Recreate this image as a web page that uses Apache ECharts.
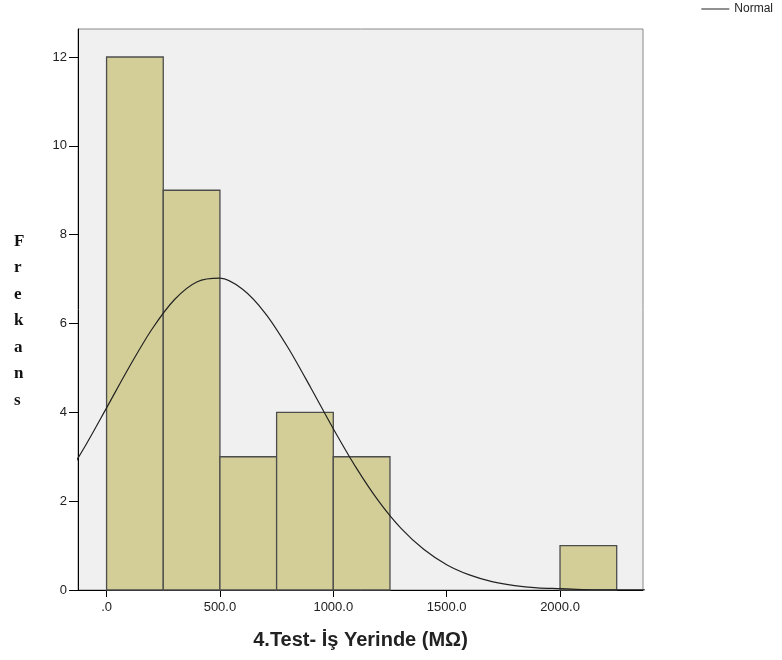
<!DOCTYPE html>
<html>
<head>
<meta charset="utf-8">
<script src="https://cdn.jsdelivr.net/npm/echarts@6/dist/echarts.min.js"></script>
<style>
html,body{margin:0;padding:0;background:#fff;}
#chart{width:782px;height:660px;}
</style>
</head>
<body>
<div id="chart"></div>
<script>
// Histogram bins (MΩ) and frequencies
var binStarts = [0, 250, 500, 750, 1000, 1250, 1500, 1750, 2000];
var binEnds   = [250, 500, 750, 1000, 1250, 1500, 1750, 2000, 2250];
var counts    = [12, 9, 3, 4, 3, 0, 0, 0, 1];

// Normal curve
var curveX = [-200, -100, 0, 100, 200, 300, 400, 500, 600, 700, 800, 900, 1000, 1100, 1200, 1300, 1400, 1500, 1600, 1700, 1800, 1900, 2000, 2100, 2200, 2300, 2400];
var curveY = [2.36, 3.19, 4.10, 5.02, 5.87, 6.54, 6.94, 7.02, 6.77, 6.23, 5.46, 4.56, 3.63, 2.76, 2.00, 1.38, 0.91, 0.57, 0.34, 0.19, 0.10, 0.05, 0.03, 0.01, 0.005, 0.002, 0.001];

// Axis ticks
var xTicks = [0, 500, 1000, 1500, 2000];
var xTickLabels = ['.0', '500.0', '1000.0', '1500.0', '2000.0'];
var yTicks = [0, 2, 4, 6, 8, 10, 12];

var xMin = -126, xMax = 2366, yMax = 12.63;

var barData = [];
for (var i = 0; i < counts.length; i++) {
  if (counts[i] > 0) barData.push([binStarts[i], binEnds[i], counts[i]]);
}
var lineData = curveX.map(function (x, i) { return [x, curveY[i]]; });

var chart = echarts.init(document.getElementById('chart'), null, {renderer: 'canvas'});
var tickFont = '"Liberation Sans Narrow","Liberation Sans",Arial,sans-serif';
chart.setOption({
  animation: false,
  backgroundColor: '#ffffff',
  legend: {
    data: [{name: 'Normal', icon: 'rect'}],
    right: 4, top: -2,
    itemWidth: 28, itemHeight: 1,
    itemGap: 4,
    textStyle: {fontSize: 12, color: '#222', fontFamily: tickFont},
    itemStyle: {color: '#222'}
  },
  grid: {
    left: 78, right: 139, top: 29, bottom: 70,
    show: true, backgroundColor: '#F0F0F0', borderColor: '#8a8a8a', borderWidth: 1
  },
  xAxis: {
    type: 'value', min: xMin, max: xMax,
    splitLine: {show: false},
    axisLine: {show: true, onZero: false, lineStyle: {color: '#000', width: 1}},
    axisTick: {show: true, length: 7, customValues: xTicks, lineStyle: {color: '#000'}},
    axisLabel: {
      customValues: xTicks, margin: 11, fontSize: 13, color: '#222', fontFamily: tickFont,
      formatter: function (v) { var k = xTicks.indexOf(v); return k >= 0 ? xTickLabels[k] : ''; }
    },
    name: '4.Test- İş Yerinde (MΩ)',
    nameLocation: 'middle', nameGap: 40,
    nameTextStyle: {fontSize: 20, fontWeight: 'bold', color: '#222', fontFamily: tickFont}
  },
  yAxis: {
    type: 'value', min: 0, max: yMax,
    splitLine: {show: false},
    axisLine: {show: true, onZero: false, lineStyle: {color: '#000', width: 1}},
    axisTick: {show: true, length: 9, customValues: yTicks, lineStyle: {color: '#000'}},
    axisLabel: {customValues: yTicks, margin: 11, fontSize: 13, color: '#222', fontFamily: tickFont}
  },
  graphic: [{
    type: 'text', left: 14, top: 228,
    style: {
      text: 'F\nr\ne\nk\na\nn\ns',
      font: 'bold 17px "Liberation Serif","DejaVu Serif",serif',
      lineHeight: 26.5, fill: '#111', align: 'center'
    }
  }],
  series: [{
    name: 'Histogram',
    type: 'custom',
    data: barData,
    encode: {x: [0, 1], y: 2},
    renderItem: function (params, api) {
      var p0 = api.coord([api.value(0), api.value(2)]);
      var p1 = api.coord([api.value(1), 0]);
      return {
        type: 'rect',
        shape: {x: p0[0], y: p0[1], width: p1[0] - p0[0], height: p1[1] - p0[1]},
        style: {fill: '#D3CE97', stroke: '#4d4d4d', lineWidth: 1.3}
      };
    },
    z: 2
  }, {
    name: 'Normal',
    type: 'line',
    data: lineData,
    smooth: 0.3,
    symbol: 'none',
    lineStyle: {color: '#222', width: 1.2},
    itemStyle: {color: '#222'},
    clip: true,
    z: 3
  }]
});
</script>
</body>
</html>
